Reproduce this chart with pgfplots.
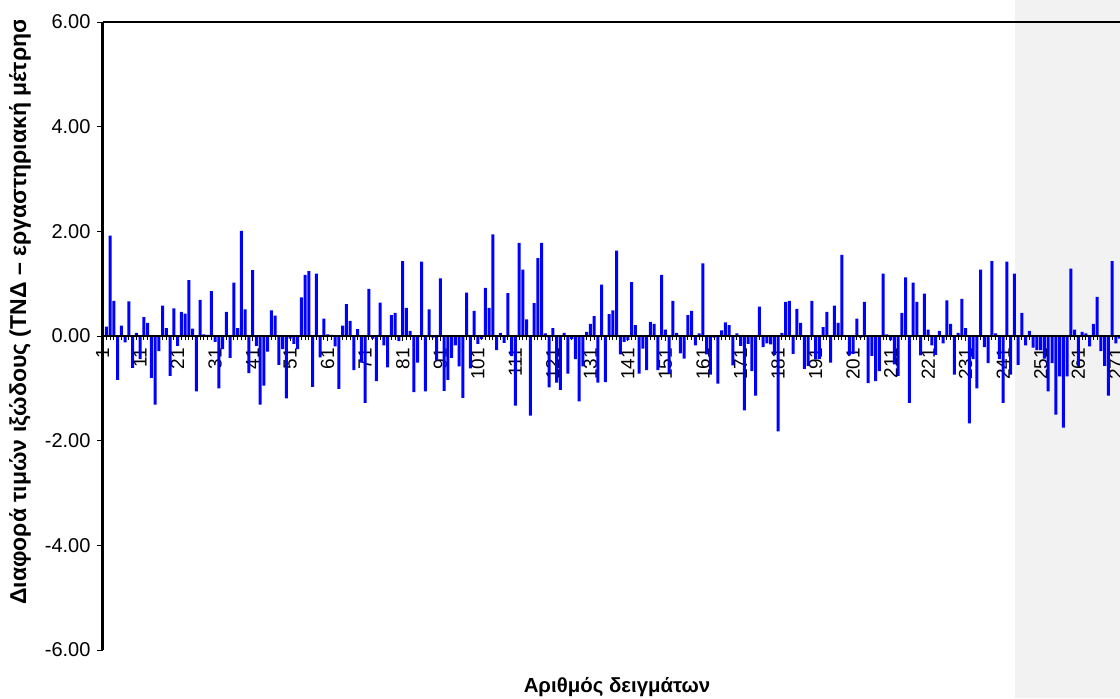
\documentclass[border=0pt]{standalone}
\usepackage{fontspec}
\setmainfont{Liberation Sans}
\usepackage{pgfplots}
\pgfplotsset{compat=1.18}
\definecolor{panelgray}{RGB}{242,242,242}

\begin{document}
\begin{tikzpicture}
% light panel at the right edge of the chart area
\fill[panelgray] (507.5pt,0pt) rectangle (560pt,349pt);
\begin{axis}[
  at={(51.25pt,24pt)}, anchor=south west,
  scale only axis, width=510.4pt, height=314pt,
  xmin=1, xmax=273, ymin=-6, ymax=6,
  axis x line=middle, axis y line=left,
  axis line style={-, black},
  x axis line style={line width=0.8pt},
  y axis line style={line width=1.2pt},
  xtick={1,11,...,271},
  minor x tick num=9,
  ytick={-6,-4,...,6},
  tick align=outside,
  major tick length=2.5pt, minor tick length=2pt,
  tick style={black, line width=0.5pt},
  hide obscured x ticks=false, hide obscured y ticks=false,
  /pgf/number format/assume math mode=true,
  yticklabel style={/pgf/number format/fixed, /pgf/number format/fixed zerofill,
    /pgf/number format/precision=2, font=\fontsize{10}{12}\selectfont},
  xticklabel style={rotate=90, anchor=east, font=\fontsize{9.5}{11}\selectfont},
  clip=false,
]
\addplot[ybar, bar width=1.5pt, fill=blue, draw=none] coordinates {
(1,0.00) (2,0.18) (3,1.92) (4,0.67) (5,-0.84) (6,0.20) (7,-0.12) (8,0.66) (9,-0.61) (10,0.06)
(11,-0.44) (12,0.36) (13,0.25) (14,-0.80) (15,-1.31) (16,-0.29) (17,0.58) (18,0.15) (19,-0.76) (20,0.53)
(21,-0.19) (22,0.46) (23,0.43) (24,1.07) (25,0.14) (26,-1.06) (27,0.69) (28,0.03) (29,0.02) (30,0.86)
(31,-0.11) (32,-1.00) (33,-0.25) (34,0.46) (35,-0.42) (36,1.02) (37,0.15) (38,2.01) (39,0.51) (40,-0.71)
(41,1.26) (42,-0.19) (43,-1.31) (44,-0.95) (45,-0.30) (46,0.49) (47,0.39) (48,-0.55) (49,-0.25) (50,-1.19)
(51,-0.05) (52,-0.15) (53,-0.25) (54,0.74) (55,1.17) (56,1.24) (57,-0.97) (58,1.19) (59,-0.41) (60,0.33)
(61,0.03) (62,0.02) (63,-0.20) (64,-1.01) (65,0.20) (66,0.61) (67,0.29) (68,-0.65) (69,0.13) (70,-0.51)
(71,-1.28) (72,0.90) (73,-0.05) (74,-0.86) (75,0.64) (76,-0.18) (77,-0.60) (78,0.40) (79,0.44) (80,-0.10)
(81,1.43) (82,0.54) (83,0.10) (84,-1.07) (85,-0.51) (86,1.42) (87,-1.06) (88,0.51) (89,-0.03) (90,-0.47)
(91,1.10) (92,-1.05) (93,-0.84) (94,-0.42) (95,-0.18) (96,-0.58) (97,-1.18) (98,0.83) (99,-0.62) (100,0.48)
(101,-0.15) (102,-0.06) (103,0.92) (104,0.54) (105,1.94) (106,-0.27) (107,0.06) (108,-0.13) (109,0.82) (110,-0.38)
(111,-1.33) (112,1.78) (113,1.27) (114,0.32) (115,-1.52) (116,0.63) (117,1.49) (118,1.78) (119,0.05) (120,-0.98)
(121,0.15) (122,-0.89) (123,-1.03) (124,0.06) (125,-0.72) (126,-0.06) (127,-0.44) (128,-1.25) (129,-0.58) (130,0.08)
(131,0.23) (132,0.38) (133,-0.89) (134,0.98) (135,-0.88) (136,0.42) (137,0.49) (138,1.63) (139,-0.35) (140,-0.11)
(141,-0.08) (142,1.03) (143,0.21) (144,-0.72) (145,-0.24) (146,-0.65) (147,0.27) (148,0.23) (149,-0.65) (150,1.17)
(151,0.12) (152,-0.72) (153,0.67) (154,0.06) (155,-0.33) (156,-0.43) (157,0.40) (158,0.48) (159,-0.18) (160,0.05)
(161,1.39) (162,-0.35) (163,-0.74) (164,-0.03) (165,-0.91) (166,0.11) (167,0.26) (168,0.21) (169,-0.56) (170,0.05)
(171,-0.19) (172,-1.42) (173,-0.15) (174,-0.67) (175,-1.14) (176,0.56) (177,-0.21) (178,-0.14) (179,-0.16) (180,-0.36)
(181,-1.82) (182,0.06) (183,0.65) (184,0.67) (185,-0.34) (186,0.52) (187,0.25) (188,-0.63) (189,-0.57) (190,0.67)
(191,-0.44) (192,-0.44) (193,0.17) (194,0.46) (195,-0.51) (196,0.58) (197,0.25) (198,1.55) (199,0.00) (200,-0.37)
(201,-0.34) (202,0.33) (203,-0.03) (204,0.65) (205,-0.90) (206,-0.38) (207,-0.86) (208,-0.67) (209,1.19) (210,0.03)
(211,-0.08) (212,-0.54) (213,-0.76) (214,0.44) (215,1.12) (216,-1.28) (217,1.02) (218,0.65) (219,-0.37) (220,0.81)
(221,0.12) (222,-0.18) (223,-0.36) (224,0.10) (225,-0.14) (226,0.68) (227,0.23) (228,-0.74) (229,0.06) (230,0.71)
(231,0.15) (232,-1.67) (233,-0.44) (234,-1.00) (235,1.27) (236,-0.21) (237,-0.52) (238,1.43) (239,0.05) (240,-0.44)
(241,-1.28) (242,1.42) (243,-0.74) (244,1.19) (245,-0.55) (246,0.44) (247,-0.18) (248,0.10) (249,-0.22) (250,-0.27)
(251,-0.27) (252,-0.43) (253,-1.06) (254,-0.52) (255,-1.50) (256,-0.77) (257,-1.75) (258,-0.77) (259,1.29) (260,0.12)
(261,-0.57) (262,0.08) (263,0.05) (264,-0.20) (265,0.23) (266,0.75) (267,-0.29) (268,-0.57) (269,-1.14) (270,1.43)
(271,-0.14) (272,-0.05)
};
% zero line and top frame over the bars
\draw[line width=0.8pt] (axis cs:1,0) -- (axis cs:273,0);
\draw[line width=0.6pt] (rel axis cs:0,1) -- (rel axis cs:1,1);
\end{axis}
% the axis title runs past the top of the chart area and is cut there
\begin{scope}
\clip (0pt,0pt) rectangle (40pt,338.5pt);
\node[rotate=90, anchor=west, inner sep=0pt, font=\bfseries\fontsize{11.5}{13}\selectfont] at (10pt,46.5pt)
  {Διαφορά τιμών ιξώδους (ΤΝΔ – εργαστηριακή μέτρησης)};
\end{scope}
\node[font=\bfseries\fontsize{10.2}{12}\selectfont] at (308.5pt,5.5pt) {Αριθμός δειγμάτων};
\pgfresetboundingbox
\useasboundingbox (0,0) rectangle (560pt,349pt);
\end{tikzpicture}
\end{document}
